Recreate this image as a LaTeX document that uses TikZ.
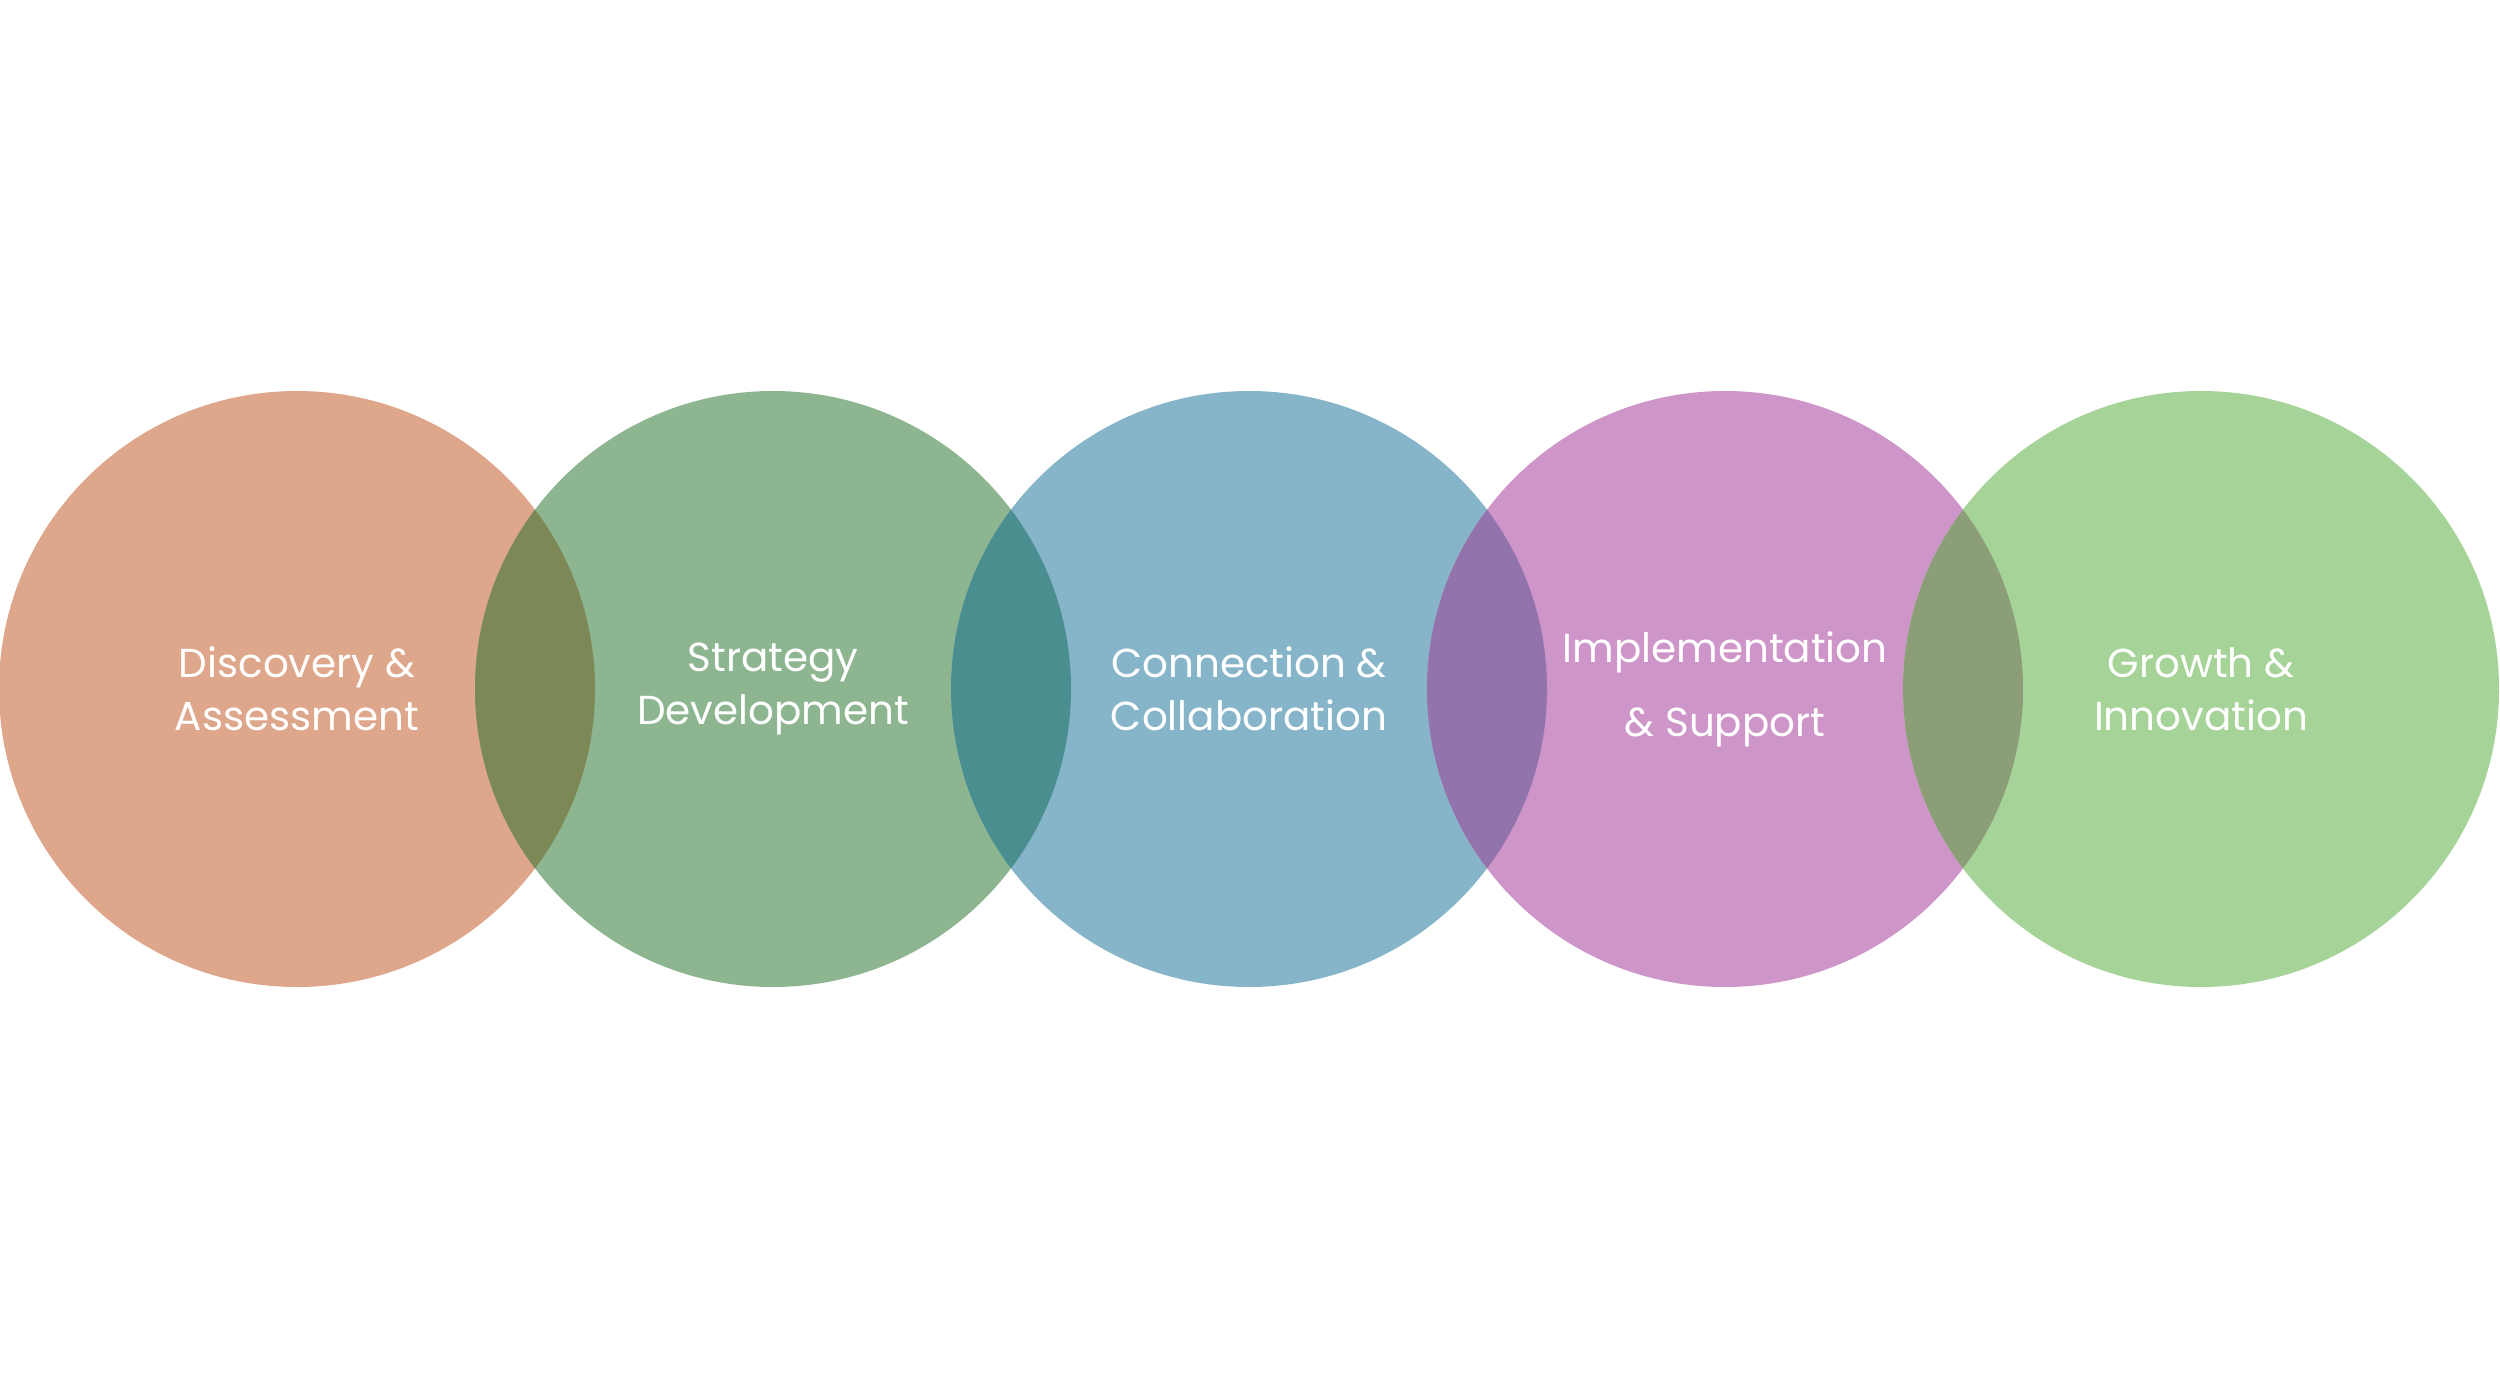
\documentclass[tikz,border=0pt]{standalone}
\usepackage{fontspec}
\setmainfont{Poppins}
\definecolor{cA}{HTML}{DEA68A}
\definecolor{cB}{HTML}{8DB590}
\definecolor{cC}{HTML}{86B4C8}
\definecolor{cD}{HTML}{CE95C8}
\definecolor{cE}{HTML}{A6D397}
\definecolor{oAB}{HTML}{7C8856}
\definecolor{oBC}{HTML}{4A8E8F}
\definecolor{oCD}{HTML}{9373AB}
\definecolor{oDE}{HTML}{8B9E78}
\tikzset{lbl/.style={text=white,align=center,font=\fontsize{11.5pt}{15pt}\selectfont}}
\begin{document}
\begin{tikzpicture}[x=0.01cm,y=-0.01cm]
\useasboundingbox (0,0) rectangle (2500,1379);
\def\r{298}
\foreach \x/\c in {297/cA,773/cB,1249/cC,1725/cD,2201/cE}{\fill[\c] (\x,689) circle (\r);}
\foreach \a/\b/\c in {297/773/oAB,773/1249/oBC,1249/1725/oCD,1725/2201/oDE}{
 \begin{scope}\clip (\a,689) circle (\r); \fill[\c] (\b,689) circle (\r);\end{scope}}
\node[lbl] (a) at (297,689) {Discovery \&\\Assessment};
\node[lbl] (b) at (773,689) {Strategy\\Development};
\node[lbl] (c) at (1249,689) {Connection \&\\Collaboration};
\node[lbl,font=\fontsize{11.5pt}{21pt}\selectfont] (d) at (1725,689) {Implementation\\\& Support};
\node[lbl] (e) at (2201,689) {Growth \&\\Innovation};
\end{tikzpicture}
\end{document}
